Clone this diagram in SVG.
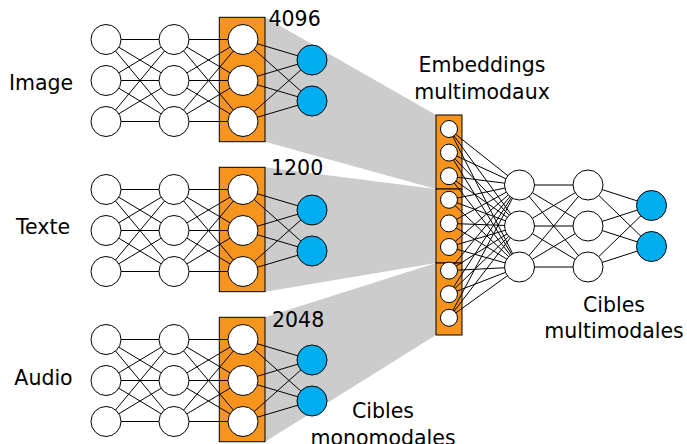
<svg xmlns="http://www.w3.org/2000/svg" width="687" height="444" viewBox="0 0 687 444">
<style>
.w{fill:#fff;stroke:#000;stroke-width:1}
.b{fill:#00AEEF;stroke:#000;stroke-width:1}
.o{fill:#F7941D;stroke:#000;stroke-width:1}
.g{fill:#CCCCCC;stroke:none}
.c{fill:none;stroke:#000;stroke-width:1}
text{font-family:"DejaVu Sans",sans-serif;font-size:20.5px;fill:#000}
.m{text-anchor:middle}
</style>
<rect width="687" height="444" fill="#fff"/>
<g id="projections">
<polygon class="g" points="265,17.3 436,115 436,189 265,141.7"/>
<polygon class="g" points="265,167.3 436,189 436,263 265,291.7"/>
<polygon class="g" points="265,317.3 436,263 436,335 265,441.7"/>
</g>
<g id="layers">
<rect class="o" x="219.3" y="17.3" width="45.7" height="124.4"/>
<rect class="o" x="219.3" y="167.3" width="45.7" height="124.4"/>
<rect class="o" x="219.3" y="317.3" width="45.7" height="124.4"/>
<rect class="o" x="436" y="115" width="26" height="74"/>
<rect class="o" x="436" y="189" width="26" height="74"/>
<rect class="o" x="436" y="263" width="26" height="72"/>
</g>
<g id="connectors">
<path id="net" class="c" d="M106 39.5L174 39.5M106 39.5L174 80.5M106 39.5L174 121.5M106 80.5L174 39.5M106 80.5L174 80.5M106 80.5L174 121.5M106 121.5L174 39.5M106 121.5L174 80.5M106 121.5L174 121.5M174 39.5L243 39.5M174 39.5L243 80.5M174 39.5L243 121.5M174 80.5L243 39.5M174 80.5L243 80.5M174 80.5L243 121.5M174 121.5L243 39.5M174 121.5L243 80.5M174 121.5L243 121.5M243 39.5L312 60M243 39.5L312 101M243 80.5L312 60M243 80.5L312 101M243 121.5L312 60M243 121.5L312 101"/>
<use href="#net" transform="translate(0,150)"/>
<use href="#net" transform="translate(0,300)"/>
<path class="c" d="M449 129L519.5 185M449 129L519.5 226M449 129L519.5 267M449 152.6L519.5 185M449 152.6L519.5 226M449 152.6L519.5 267M449 176.2L519.5 185M449 176.2L519.5 226M449 176.2L519.5 267M449 199.8L519.5 185M449 199.8L519.5 226M449 199.8L519.5 267M449 223.4L519.5 185M449 223.4L519.5 226M449 223.4L519.5 267M449 247L519.5 185M449 247L519.5 226M449 247L519.5 267M449 270.6L519.5 185M449 270.6L519.5 226M449 270.6L519.5 267M449 294.2L519.5 185M449 294.2L519.5 226M449 294.2L519.5 267M449 317.8L519.5 185M449 317.8L519.5 226M449 317.8L519.5 267M519.5 185L588 185M519.5 185L588 226M519.5 185L588 267M519.5 226L588 185M519.5 226L588 226M519.5 226L588 267M519.5 267L588 185M519.5 267L588 226M519.5 267L588 267M588 185L651.5 205.5M588 185L651.5 246.5M588 226L651.5 205.5M588 226L651.5 246.5M588 267L651.5 205.5M588 267L651.5 246.5"/>
</g>
<g id="image-net">
<circle class="w" cx="106" cy="39.5" r="15"/><circle class="w" cx="106" cy="80.5" r="15"/><circle class="w" cx="106" cy="121.5" r="15"/>
<circle class="w" cx="174" cy="39.5" r="15"/><circle class="w" cx="174" cy="80.5" r="15"/><circle class="w" cx="174" cy="121.5" r="15"/>
<circle class="w" cx="243" cy="39.5" r="15"/><circle class="w" cx="243" cy="80.5" r="15"/><circle class="w" cx="243" cy="121.5" r="15"/>
<circle class="b" cx="312" cy="60" r="15"/><circle class="b" cx="312" cy="101" r="15"/>
</g>
<g id="texte-net">
<circle class="w" cx="106" cy="189.5" r="15"/><circle class="w" cx="106" cy="230.5" r="15"/><circle class="w" cx="106" cy="271.5" r="15"/>
<circle class="w" cx="174" cy="189.5" r="15"/><circle class="w" cx="174" cy="230.5" r="15"/><circle class="w" cx="174" cy="271.5" r="15"/>
<circle class="w" cx="243" cy="189.5" r="15"/><circle class="w" cx="243" cy="230.5" r="15"/><circle class="w" cx="243" cy="271.5" r="15"/>
<circle class="b" cx="312" cy="210" r="15"/><circle class="b" cx="312" cy="251" r="15"/>
</g>
<g id="audio-net">
<circle class="w" cx="106" cy="339.5" r="15"/><circle class="w" cx="106" cy="380.5" r="15"/><circle class="w" cx="106" cy="421.5" r="15"/>
<circle class="w" cx="174" cy="339.5" r="15"/><circle class="w" cx="174" cy="380.5" r="15"/><circle class="w" cx="174" cy="421.5" r="15"/>
<circle class="w" cx="243" cy="339.5" r="15"/><circle class="w" cx="243" cy="380.5" r="15"/><circle class="w" cx="243" cy="421.5" r="15"/>
<circle class="b" cx="312" cy="360" r="15"/><circle class="b" cx="312" cy="401" r="15"/>
</g>
<g id="embeddings">
<circle class="w" cx="449" cy="129" r="8.5"/><circle class="w" cx="449" cy="152.6" r="8.5"/><circle class="w" cx="449" cy="176.2" r="8.5"/>
<circle class="w" cx="449" cy="199.8" r="8.5"/><circle class="w" cx="449" cy="223.4" r="8.5"/><circle class="w" cx="449" cy="247" r="8.5"/>
<circle class="w" cx="449" cy="270.6" r="8.5"/><circle class="w" cx="449" cy="294.2" r="8.5"/><circle class="w" cx="449" cy="317.8" r="8.5"/>
</g>
<g id="multi-net">
<circle class="w" cx="519.5" cy="185" r="15"/><circle class="w" cx="519.5" cy="226" r="15"/><circle class="w" cx="519.5" cy="267" r="15"/>
<circle class="w" cx="588" cy="185" r="15"/><circle class="w" cx="588" cy="226" r="15"/><circle class="w" cx="588" cy="267" r="15"/>
<circle class="b" cx="651.5" cy="205.5" r="15"/><circle class="b" cx="651.5" cy="246.5" r="15"/>
</g>
<g id="labels">
<text class="m" x="41" y="89.5">Image</text>
<text class="m" x="43" y="234">Texte</text>
<text class="m" x="43.5" y="385">Audio</text>
<text x="268.5" y="26">4096</text>
<text x="271" y="175">1200</text>
<text x="272" y="326.5">2048</text>
<text class="m" x="482" y="72">Embeddings</text>
<text class="m" x="482" y="99">multimodaux</text>
<text class="m" x="614" y="312">Cibles</text>
<text class="m" x="614" y="338">multimodales</text>
<text class="m" x="383" y="418">Cibles</text>
<text class="m" x="383" y="445">monomodales</text>
</g>
</svg>
